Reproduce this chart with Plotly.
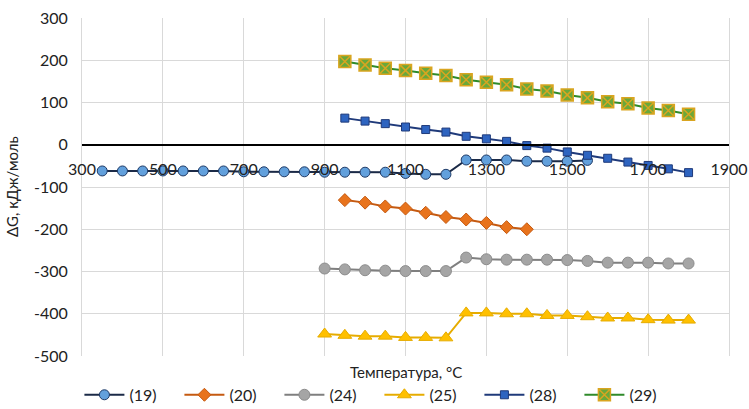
import plotly.graph_objects as go

# ---- data ----
x19 = [350, 400, 450, 500, 550, 600, 650, 700, 750, 800, 850, 900, 950, 1000, 1050,
       1100, 1150, 1200, 1250, 1300, 1350, 1400, 1450, 1500, 1550]
y19 = [-62, -62, -62, -62, -62, -62, -62, -64, -64, -64, -64, -65, -65, -65, -65,
       -68, -70, -70, -36, -36, -36, -39, -39, -39, -37]

x20 = [950, 1000, 1050, 1100, 1150, 1200, 1250, 1300, 1350, 1400]
y20 = [-131, -137, -146, -151, -161, -171, -177, -185, -195, -200]

x24 = [900, 950, 1000, 1050, 1100, 1150, 1200, 1250, 1300, 1350, 1400, 1450, 1500,
       1550, 1600, 1650, 1700, 1750, 1800]
y24 = [-293, -295, -297, -298, -299, -299, -299, -267, -271, -272, -272, -272, -273,
       -275, -279, -279, -279, -281, -281]

x25 = [900, 950, 1000, 1050, 1100, 1150, 1200, 1250, 1300, 1350, 1400, 1450, 1500,
       1550, 1600, 1650, 1700, 1750, 1800]
y25 = [-448, -451, -453, -453, -456, -456, -457, -398, -398, -400, -400, -404, -404,
       -407, -410, -410, -414, -415, -415]

x28 = [950, 1000, 1050, 1100, 1150, 1200, 1250, 1300, 1350, 1400, 1450, 1500, 1550,
       1600, 1650, 1700, 1750, 1800]
y28 = [63, 56, 50, 42, 36, 30, 20, 14, 8, -2, -8, -17, -25, -32, -41, -49, -57, -66]

x29 = [950, 1000, 1050, 1100, 1150, 1200, 1250, 1300, 1350, 1400, 1450, 1500, 1550,
       1600, 1650, 1700, 1750, 1800]
y29 = [197, 189, 181, 176, 169, 164, 154, 148, 142, 132, 127, 118, 111, 102, 97, 87, 81, 72]

names = ["(19)", "(20)", "(24)", "(25)", "(28)", "(29)"]
x_ticks = [300, 500, 700, 900, 1100, 1300, 1500, 1700, 1900]
y_ticks = [-500, -400, -300, -200, -100, 0, 100, 200, 300]

FONT = "Lato"

fig = go.Figure()

fig.add_trace(go.Scatter(x=x19, y=y19, name=names[0], mode="lines+markers",
                         line=dict(color="#1b2a47", width=2),
                         marker=dict(symbol="circle", size=10, color="#62a0dc",
                                     line=dict(color="#1f3a66", width=1))))
fig.add_trace(go.Scatter(x=x20, y=y20, name=names[1], mode="lines+markers",
                         line=dict(color="#c55a11", width=2),
                         marker=dict(symbol="diamond", size=10, color="#e8731c",
                                     line=dict(color="#c55a11", width=1))))
fig.add_trace(go.Scatter(x=x24, y=y24, name=names[2], mode="lines+markers",
                         line=dict(color="#7f7f7f", width=2),
                         marker=dict(symbol="circle", size=11, color="#a5a5a5",
                                     line=dict(color="#8c8c8c", width=1))))
fig.add_trace(go.Scatter(x=x25, y=y25, name=names[3], mode="lines+markers",
                         line=dict(color="#e6ac00", width=2),
                         marker=dict(symbol="triangle-up", size=12, color="#ffc000",
                                     line=dict(color="#e6ac00", width=1))))
fig.add_trace(go.Scatter(x=x28, y=y28, name=names[4], mode="lines+markers",
                         line=dict(color="#1f3a7a", width=2),
                         marker=dict(symbol="square", size=8, color="#2e64c0",
                                     line=dict(color="#1f3a7a", width=1))))
fig.add_trace(go.Scatter(x=x29, y=y29, name=names[5], mode="lines+markers",
                         line=dict(color="#2f8a2a", width=2),
                         marker=dict(symbol="square-x", size=12, color="#6aa83a",
                                     line=dict(color="#d9a520", width=1.5))))

y_min, y_max = -500, 300
zero_pos = (0 - y_min) / (y_max - y_min)

fig.update_layout(
    width=749, height=409,
    margin=dict(l=82, r=20, t=18, b=53, autoexpand=False),
    paper_bgcolor="white", plot_bgcolor="white",
    font=dict(family=FONT, size=15, color="#222222"),
    showlegend=True,
    legend=dict(orientation="h", x=-0.004, xanchor="left", y=-0.115, yanchor="middle",
                entrywidth=45, entrywidthmode="pixels",
                font=dict(family=FONT, size=16, color="#222222"),
                itemwidth=40, tracegroupgap=0),
    xaxis=dict(range=[300, 1900], tickvals=x_ticks, ticktext=[str(v) for v in x_ticks],
               showgrid=True, gridcolor="#d9d9d9", gridwidth=1,
               zeroline=False, showline=True, linecolor="black", linewidth=2,
               anchor="free", position=zero_pos,
               ticks="outside", ticklen=10, tickcolor="rgba(0,0,0,0)",
               tickfont=dict(family=FONT, size=16, color="#222222")),
    yaxis=dict(range=[y_min, y_max], tickvals=y_ticks, ticktext=[str(v) for v in y_ticks],
               showgrid=True, gridcolor="#d9d9d9", gridwidth=1,
               zeroline=False, showline=True, linecolor="#d9d9d9", linewidth=1, mirror=True,
               ticks="outside", ticklen=10, tickcolor="rgba(0,0,0,0)",
               tickfont=dict(family=FONT, size=16, color="#222222")),
    annotations=[
        dict(text="Температура, °C", xref="paper", yref="paper", x=0.5, y=-0.047,
             xanchor="center", yanchor="middle", showarrow=False,
             font=dict(family=FONT, size=15, color="#222222")),
        dict(text="ΔG, кДж/моль", xref="paper", yref="paper", x=-0.108, y=0.5,
             xanchor="center", yanchor="middle", textangle=-90, showarrow=False,
             font=dict(family=FONT, size=15, color="#222222")),
    ],
)

fig.write_html("out.html")
